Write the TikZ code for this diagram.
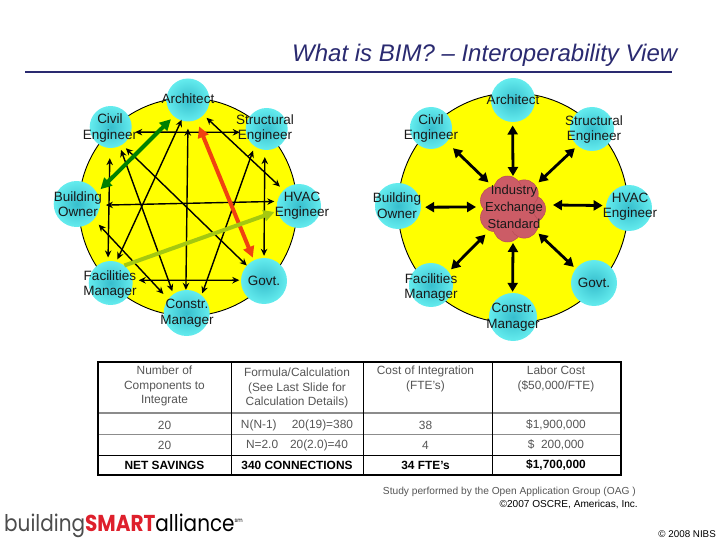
\documentclass[tikz,border=0pt]{standalone}
\usepackage{fontspec}
\setmainfont{Liberation Sans}
\newfontfamily\logofont{Poppins}
\usetikzlibrary{arrows.meta,calc}
\definecolor{navy}{RGB}{42,42,112}
\definecolor{disc}{RGB}{255,255,0}
\definecolor{tealin}{RGB}{55,190,205}
\definecolor{tealout}{RGB}{100,236,238}
\definecolor{blob}{RGB}{204,92,102}
\definecolor{blobline}{RGB}{184,76,86}
\definecolor{thickgreen}{RGB}{0,128,0}
\definecolor{thickred}{RGB}{240,66,16}
\definecolor{thicklime}{RGB}{164,200,16}
\definecolor{tabtext}{RGB}{85,85,85}
\definecolor{tabline}{RGB}{140,140,140}
\definecolor{logored}{RGB}{222,32,44}
\tikzset{
  x=1pt,y=-1pt,
  yellowdisc/.style={circle,draw=black,line width=0.9pt,fill=disc,inner sep=0,minimum size=#1},
  party/.style={circle,draw=none,inner sep=0,minimum size=#1,inner color=tealin,outer color=tealout},
  lbl/.style={align=center,inner sep=0,font=\fontsize{13.5}{15.5}\selectfont,text=black!90},
  thin link/.style={{Stealth[length=7pt,width=6.5pt]}-{Stealth[length=7pt,width=6.5pt]},line width=1.4pt,black},
  hub link/.style={{Triangle[length=9pt,width=10pt]}-{Triangle[length=9pt,width=10pt]},line width=2.8pt,black},
  fat link/.style={line width=4pt,#1},
  lobe/.style={circle,draw=blobline,line width=0.5pt,fill=blob,inner sep=0,minimum size=#1},
  cell/.style={align=center,inner sep=0,text=tabtext,font=\fontsize{11.9}{14.5}\selectfont},
  boldcell/.style={align=center,inner sep=0,text=black,font=\fontsize{11.9}{13}\selectfont\bfseries},
}
\begin{document}
\begin{tikzpicture}
\useasboundingbox (0,0) rectangle (720,540);
% title
\node[anchor=base west,inner sep=0,text=navy,font=\fontsize{24}{28}\selectfont\itshape] (title) at (292,62) {What is BIM? – Interoperability View};
\coordinate (ruleL) at (25,72);
\coordinate (ruleR) at (672,72);
\draw[navy,line width=1.8pt] (ruleL) -- (ruleR);

% LEFT
\node[yellowdisc=218pt] (ldisc) at (188,207) {};
\node[party=43pt] (A) at (188,100) {};
\node[party=42pt] (C) at (110.7,127) {};
\node[party=42pt] (S) at (266.7,129) {};
\node[party=46pt] (B) at (76.7,204) {};
\node[party=44pt] (H) at (299,206) {};
\node[party=44pt] (F) at (110.7,283) {};
\node[party=46pt] (G) at (264,281) {};
\node[party=46pt] (K) at (186.7,313) {};

\draw[thin link,shorten <=4pt,shorten >=6pt] (C.-14) -- (S.-171.5);
\draw[thin link,shorten <=10pt,shorten >=3.5pt] (C.-92.5) -- (F.97);
\draw[thin link,shorten <=4pt,shorten >=3pt] (C.-65.5) -- (K.125.5);
\draw[thin link,shorten <=5pt] (C.-57) -- (G.138);
\draw[thin link,shorten <=-1pt,shorten >=2.5pt] (A.-108) -- (F.75.6);
\draw[thin link,shorten <=7pt] (A.-90) -- (K.92.5);
\draw[thin link,shorten <=4pt,shorten >=5pt] (A.-44) -- (H.134);
\draw[thin link,shorten <=4.5pt,shorten >=2pt] (S.-125) -- (K.50);
\draw[thin link,shorten <=7pt,shorten >=2pt] (S.-95.5) -- (G.90);
\draw[thin link,shorten <=6pt,shorten >=3pt] (B.-3.4) -- (H.168);
\draw[thin link,shorten <=7pt,shorten >=7pt] (B.-42) -- (K.143);
\draw[thin link,shorten <=6pt,shorten >=1.5pt] (F.7) -- (G.178.5);

\draw[fat link=thickgreen,{Triangle[length=11pt,width=11pt]}-{Triangle[length=11pt,width=11pt]},shorten <=4pt,shorten >=5pt] (A.-131) -- (B.29.7);
\draw[fat link=thickred,{Triangle[length=11pt,width=11pt]}-{Triangle[length=11pt,width=11pt]},shorten <=7pt,shorten >=2.7pt] (A.-67.6) -- (G.116);
\draw[fat link=thicklime,-{Triangle[length=11pt,width=11pt]},shorten >=3pt] (F.52.8) -- (H.-167);

\node[lbl] (lA) at (188,99) {Architect};
\node[lbl] (lC) at (110,128) {Civil\\Engineer};
\node[lbl] (lS) at (265,128.5) {Structural\\Engineer};
\node[lbl] (lB) at (78,204) {Building\\Owner};
\node[lbl] (lH) at (302,205.5) {HVAC\\Engineer};
\node[lbl] (lF) at (110,284.5) {Facilities\\Manager};
\node[lbl] (lG) at (264,281) {Govt.};
\node[lbl] (lK) at (187,313) {Constr.\\Manager};

% RIGHT
\node[yellowdisc=230pt] (rdisc) at (513,208) {};
\node[party=44pt] (A2) at (513,100) {};
\node[party=42pt] (C2) at (431,128) {};
\node[party=44pt] (S2) at (592,129) {};
\node[party=46pt] (B2) at (398,206) {};
\node[party=46pt] (H2) at (629,208) {};
\node[party=44pt] (F2) at (431,285) {};
\node[party=46pt] (G2) at (594,283) {};
\node[party=48pt] (K2) at (513,317) {};

% blob
\foreach \a [count=\i] in {0,51,103,154,206,257,309}{
  \node[lobe=28pt] (lobe\i) at ($(512,209)+(\a:19.5pt)$) {};
}
\node[circle,fill=blob,inner sep=0,minimum size=46pt] (X) at (512,208) {};

\draw[hub link,shorten <=3.3pt,shorten >=-2pt] (A2.-91.5) -- ($(X.center)+(1,-34)$);
\draw[hub link,shorten <=8.7pt,shorten >=-2pt] (C2.-42) -- ($(X.center)+(-25,-27)$);
\draw[hub link,shorten <=3.6pt,shorten >=-2pt] (S2.-131) -- ($(X.center)+(28,-27)$);
\draw[hub link,shorten <=4pt,shorten >=-2pt] (B2.-3) -- ($(X.center)+(-38,-1)$);
\draw[hub link,shorten <=3.3pt,shorten >=-2pt] (H2.174) -- ($(X.center)+(43,-3)$);
\draw[hub link,shorten <=3.3pt,shorten >=-2pt] (F2.37) -- ($(X.center)+(-28,28)$);
\draw[hub link,shorten <=2.7pt,shorten >=-2pt] (G2.142) -- ($(X.center)+(28,27)$);
\draw[hub link,shorten <=1pt,shorten >=-2pt] (K2.91) -- ($(X.center)+(1,37)$);

\node[lbl] (rA) at (513,100) {Architect};
\node[lbl] (rC) at (431,128.5) {Civil\\Engineer};
\node[lbl] (rS) at (594,129.5) {Structural\\Engineer};
\node[lbl] (rB) at (397,205.5) {Building\\Owner};
\node[lbl] (rH) at (630,206.5) {HVAC\\Engineer};
\node[lbl] (rF) at (431,287.5) {Facilities\\Manager};
\node[lbl] (rG) at (594,283) {Govt.};
\node[lbl] (rK) at (513,317) {Constr.\\Manager};
\node[lbl,font=\fontsize{13}{17}\selectfont] (rX) at (514,207) {Industry\\Exchange\\Standard};

% TABLE
\coordinate (tl) at (98,362);
\coordinate (br) at (621,475);
\draw[tabline,line width=1.6pt] (98,413) -- (621,413);
\draw[tabline,line width=0.8pt] (98,434) -- (621,434);
\draw[black,line width=0.9pt] (98,455) -- (621,455);
\draw[black,line width=1pt] (231,362) -- (231,475);
\draw[black,line width=1pt] (363,362) -- (363,475);
\draw[black,line width=1pt] (492,362) -- (492,475);
\draw[black,line width=1.4pt] (tl) rectangle (br);

\node[cell] (h1) at (164.5,386) {Number of\\Components to\\Integrate};
\node[cell] (h2a) at (297,372) {Formula/Calculation};
\node[cell] (h2b) at (297,395.5) {(See Last Slide for\\Calculation Details)};
\node[cell] (h3) at (425.5,379) {Cost of Integration\\(FTE's)};
\node[cell] (h4) at (556,379) {Labor Cost\\(\$50,000/FTE)};
\node[cell] (c11) at (164.5,425) {20};
\node[cell] (c12) at (297,425) {N(N-1)\quad\ 20(19)=380};
\node[cell] (c13) at (425.5,425) {38};
\node[cell] (c14) at (556,425) {\$1,900,000};
\node[cell] (c21) at (164.5,445) {20};
\node[cell] (c22) at (297,445) {N=2.0\quad 20(2.0)=40};
\node[cell] (c23) at (425.5,445) {4};
\node[cell] (c24) at (556,445) {\$\ \ 200,000};
\node[boldcell] (c31) at (164.5,465.5) {NET SAVINGS};
\node[boldcell] (c32) at (297,465.5) {340 CONNECTIONS};
\node[boldcell] (c33) at (425.5,465.5) {34 FTE's};
\node[boldcell] (c34) at (556,465.5) {\$1,700,000};

% FOOTERS
\node[anchor=base east,inner sep=0,text=tabtext,font=\fontsize{10.2}{12}\selectfont] (study) at (636,494) {Study performed by the Open Application Group (OAG )};
\node[anchor=base east,inner sep=0,font=\fontsize{10.1}{12}\selectfont] (oscre) at (638,507) {©2007 OSCRE, Americas, Inc.};
\node[anchor=base east,inner sep=0,font=\fontsize{9.8}{11}\selectfont] (nibs) at (716,537) {© 2008 NIBS};

% LOGO
\node[anchor=base west,inner sep=0,font=\logofont\fontsize{23}{28}\selectfont] (logo) at (4,531)
  {\scalebox{0.87}[1]{\textcolor{black!70}{building}\textcolor{logored}{\bfseries SMART}alliance\raisebox{9pt}{\fontsize{6}{7}\selectfont sm}}};
\end{tikzpicture}
\end{document}
